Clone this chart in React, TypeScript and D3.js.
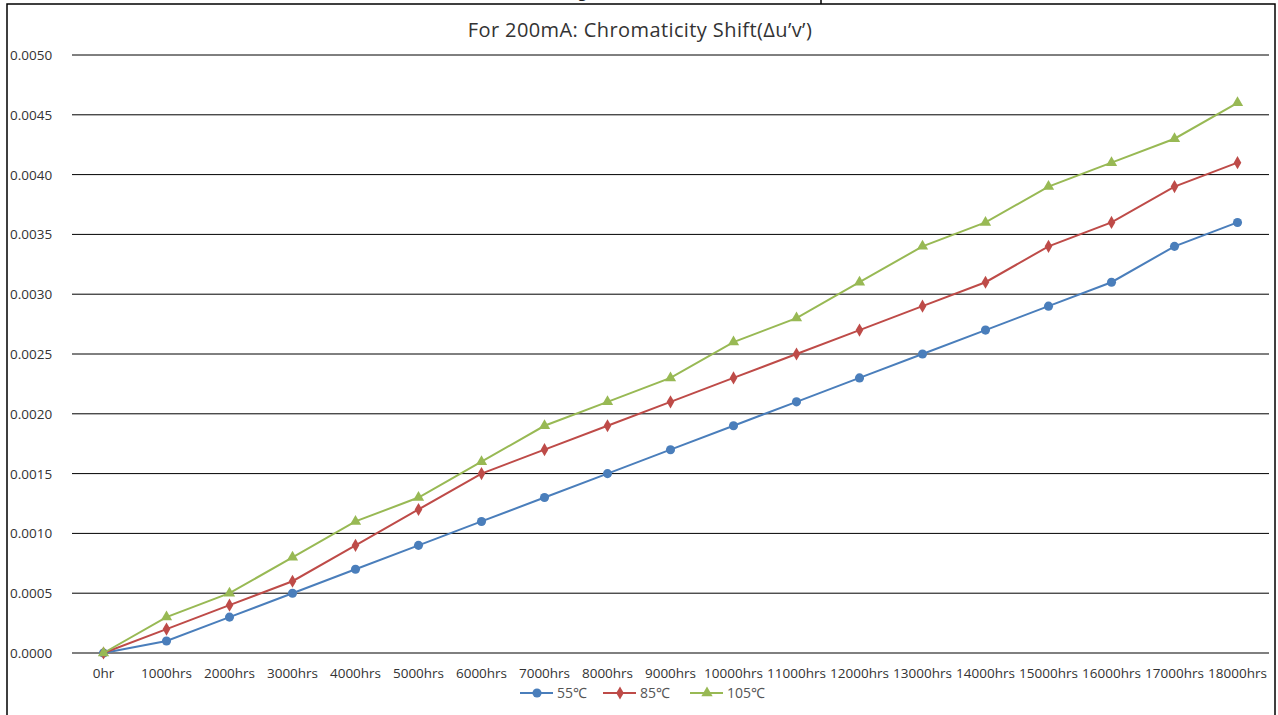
import React from "react";
import * as d3 from "d3";

const categories = ["0hr","1000hrs","2000hrs","3000hrs","4000hrs","5000hrs","6000hrs","7000hrs","8000hrs","9000hrs","10000hrs","11000hrs","12000hrs","13000hrs","14000hrs","15000hrs","16000hrs","17000hrs","18000hrs"];
const s55 = [0,0.0001,0.0003,0.0005,0.0007,0.0009,0.0011,0.0013,0.0015,0.0017,0.0019,0.0021,0.0023,0.0025,0.0027,0.0029,0.0031,0.0034,0.0036];
const s85 = [0,0.0002,0.0004,0.0006,0.0009,0.0012,0.0015,0.0017,0.0019,0.0021,0.0023,0.0025,0.0027,0.0029,0.0031,0.0034,0.0036,0.0039,0.0041];
const s105 = [0,0.0003,0.0005,0.0008,0.0011,0.0013,0.0016,0.0019,0.0021,0.0023,0.0026,0.0028,0.0031,0.0034,0.0036,0.0039,0.0041,0.0043,0.0046];
const yTicks = [0,0.0005,0.001,0.0015,0.002,0.0025,0.003,0.0035,0.004,0.0045,0.005];
const seriesNames = ["55℃","85℃","105℃"];
const title = "For 200mA: Chromaticity Shift(Δu’v’)";

const colors = ["#4A7EBB", "#BE4B48", "#98B954"];
const shapes = [d3.symbolCircle, d3.symbolDiamond, d3.symbolTriangle];
const symSizes = [65, 50, 55];
const FONT = "'Open Sans', 'Liberation Sans', sans-serif";

export default function App() {
  const W = 1278, H = 715;
  const x = d3.scaleBand().domain(categories).range([72, 1269]);
  const y = d3.scaleLinear().domain([0, 0.005]).range([653, 55]);
  const cx = (c: string) => (x(c) as number) + x.bandwidth() / 2;
  const data = [s55, s85, s105];
  const line = d3.line<number>().x((_, i) => cx(categories[i])).y((v) => y(v));
  const legendX = [520, 603, 690];

  return (
    <svg width={W} height={H} style={{ position: "absolute", left: 0, top: 0, background: "#fff" }} fontFamily={FONT}>
      <rect x={0} y={0} width={W} height={H} fill="#fff" />
      {/* surrounding frame fragments */}
      <text x={578} y={-3} fontSize={16} fill="#222">g</text>
      <line x1={821} x2={821} y1={0} y2={4} stroke="#000" strokeWidth={1.5} />
      <rect x={7} y={4} width={1268} height={730} fill="none" stroke="#000" strokeWidth={1.5} />

      <text x={640} y={37} textAnchor="middle" fontSize={20} letterSpacing={0.4} fill="#333">{title}</text>

      {yTicks.map((t) => (
        <g key={t}>
          <line x1={72} x2={1269} y1={y(t)} y2={y(t)} stroke="#000" strokeWidth={1} />
          <text x={10} y={y(t) + 5} fontSize={13.5} fill="#333">{d3.format(".4f")(t)}</text>
        </g>
      ))}

      {categories.map((c) => (
        <text key={c} x={cx(c)} y={678} textAnchor="middle" fontSize={13.5} fill="#333">{c}</text>
      ))}

      {data.map((d, si) => (
        <g key={si}>
          <path d={line(d) as string} fill="none" stroke={colors[si]} strokeWidth={2} />
          {d.map((v, i) => (
            <path key={i} d={d3.symbol().type(shapes[si]).size(symSizes[si])() as string}
              transform={`translate(${cx(categories[i])},${y(v)})`} fill={colors[si]} />
          ))}
        </g>
      ))}

      {seriesNames.map((n, si) => (
        <g key={n} transform={`translate(${legendX[si]},693)`}>
          <line x1={0} x2={33} y1={0} y2={0} stroke={colors[si]} strokeWidth={2} />
          <path d={d3.symbol().type(shapes[si]).size(symSizes[si])() as string} transform="translate(17,0)" fill={colors[si]} />
          <text x={37} y={5} fontSize={14} fill="#555">{n}</text>
        </g>
      ))}
    </svg>
  );
}
